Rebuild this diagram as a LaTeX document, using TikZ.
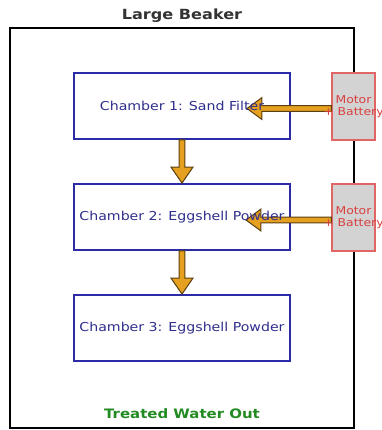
\documentclass[tikz,border=0pt]{standalone}
\usepackage{fontspec}
\setmainfont{DejaVu Sans}[FakeStretch=1.15]
\usetikzlibrary{calc}
\definecolor{chamberline}{HTML}{2B2BA8}
\definecolor{chambertext}{HTML}{2E2E8C}
\definecolor{batfill}{HTML}{D3D3D3}
\definecolor{batline}{HTML}{E06666}
\definecolor{battext}{HTML}{D94040}
\definecolor{arrfill}{HTML}{E6A020}
\definecolor{arrline}{HTML}{5A4010}
\definecolor{outgreen}{HTML}{228B22}
\definecolor{titlegray}{HTML}{333333}
\tikzset{
  beakerbox/.style={draw=black, line width=2.5bp, minimum width=344bp, minimum height=400bp, inner sep=0pt},
  chamber/.style={draw=chamberline, line width=1.8bp, fill=white, minimum width=216bp, minimum height=66bp, inner sep=0pt},
  chambertxt/.style={text=chambertext, inner sep=0pt, font=\fontsize{12.3bp}{14bp}\selectfont},
  battery/.style={draw=batline, line width=1.3bp, fill=batfill, minimum width=43bp, minimum height=67bp, inner sep=0pt},
  battxt/.style={text=battext, align=center, inner sep=0pt, font=\fontsize{10.8bp}{12bp}\selectfont},
  fatarrow/.style={fill=arrfill, draw=arrline, line width=1bp, line join=miter},
  titletxt/.style={text=titlegray, font=\bfseries\fontsize{14bp}{16bp}\selectfont, inner sep=0pt},
  outtxt/.style={text=outgreen, font=\bfseries\fontsize{13bp}{15bp}\selectfont, inner sep=0pt}
}
\begin{document}
\begin{tikzpicture}[x=1bp,y=-1bp]
\useasboundingbox (0,0) rectangle (382,430);
\fill[white] (0,0) rectangle (382,430);
% beaker
\node[beakerbox] (beaker) at (182,228) {};
\node[titletxt] (title) at (182,16) {Large Beaker};
\node[outtxt] (out) at (182,414) {Treated Water Out};
% chambers
\node[chamber] (c1) at (182,106) {};
\node[chamber] (c2) at (182,217) {};
\node[chamber] (c3) at (182,328) {};
% vertical arrows
\draw[fatarrow] let \p1=(c1.south), \p2=(c2.north) in
  (\x1-3,\y1) -- (\x1-3,\y2+16) -- (\x1-11,\y2+16) -- (\x1,\y2) -- (\x1+11,\y2+16) -- (\x1+3,\y2+16) -- (\x1+3,\y1) -- cycle;
\draw[fatarrow] let \p1=(c2.south), \p2=(c3.north) in
  (\x1-3,\y1) -- (\x1-3,\y2+16) -- (\x1-11,\y2+16) -- (\x1,\y2) -- (\x1+11,\y2+16) -- (\x1+3,\y2+16) -- (\x1+3,\y1) -- cycle;
% batteries
\node[battery] (b1) at (353.5,106.5) {};
\node[battery] (b2) at (353.5,217.5) {};
\coordinate (t1) at (247,108.5);
\coordinate (t2) at (246,220);
% horizontal arrows
\draw[fatarrow] let \p1=(b1.west), \p2=(t1) in
  (\x1,\y2+3) -- (\x2+15,\y2+3) -- (\x2+15,\y2+11) -- (\x2,\y2) -- (\x2+15,\y2-11) -- (\x2+15,\y2-3) -- (\x1,\y2-3) -- cycle;
\draw[fatarrow] let \p1=(b2.west), \p2=(t2) in
  (\x1,\y2+3) -- (\x2+15,\y2+3) -- (\x2+15,\y2+11) -- (\x2,\y2) -- (\x2+15,\y2-11) -- (\x2+15,\y2-3) -- (\x1,\y2-3) -- cycle;
% texts
\node[chambertxt] (ct1) at (c1.center) {Chamber 1: Sand Filter};
\node[chambertxt] (ct2) at (c2.center) {Chamber 2: Eggshell Powder};
\node[chambertxt] (ct3) at (c3.center) {Chamber 3: Eggshell Powder};
\node[battxt] (m1) at (b1.center) {Motor\\+ Battery};
\node[battxt] (m2) at (b2.center) {Motor\\+ Battery};
\end{tikzpicture}
\end{document}
